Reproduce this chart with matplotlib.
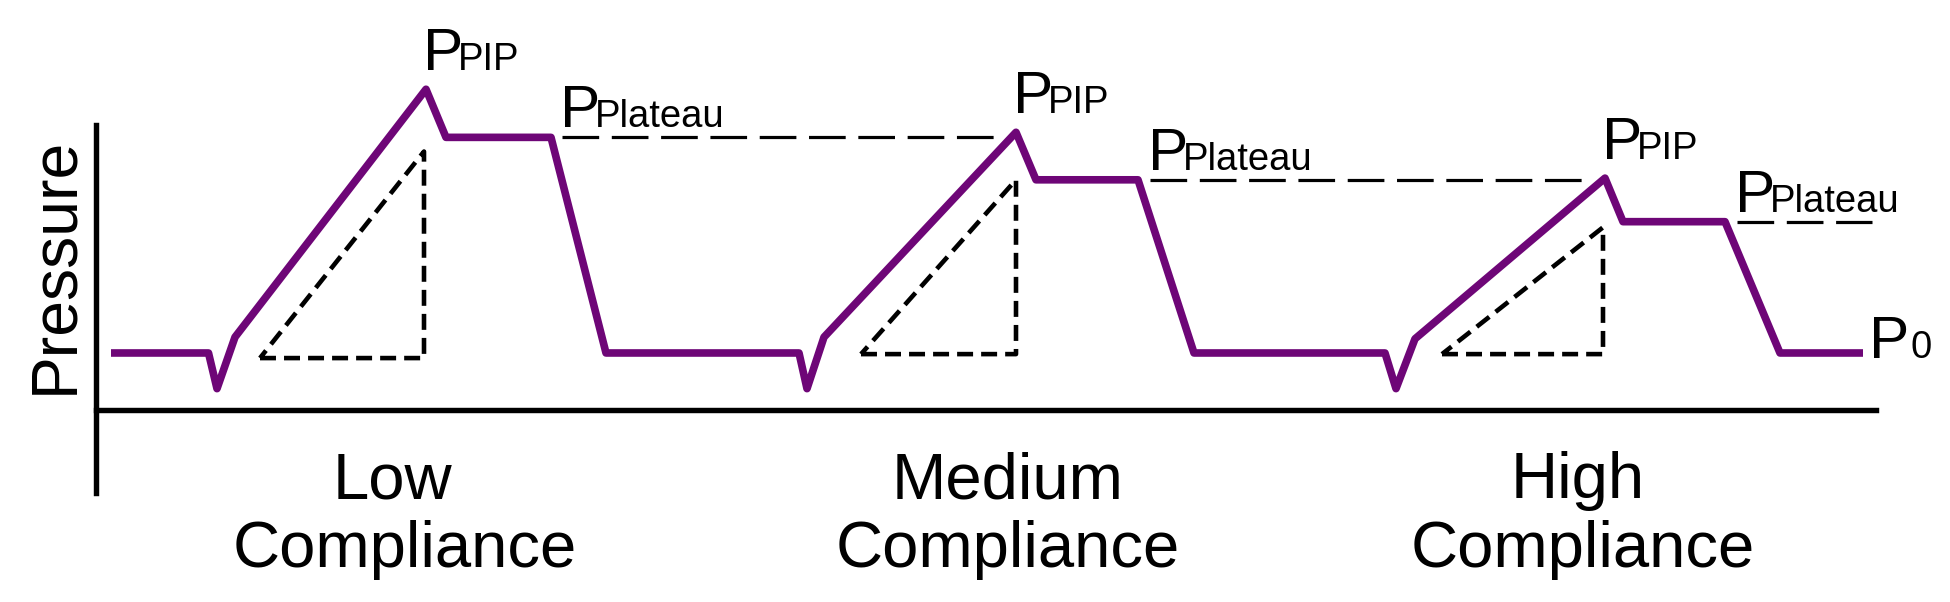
import matplotlib
matplotlib.use('Agg')
from matplotlib import pyplot as plt

plt.rcParams['font.family'] = ['Liberation Sans', 'DejaVu Sans']
plt.rcParams['lines.scale_dashes'] = False

# compliance cases, left to right
cases = ['Low', 'Medium', 'High']

# baseline pressure and trigger dip
p0 = 10.0
p_dip = 3.7
# pressures of each breath
p_kink = [12.8, 12.8, 12.5]
p_pip = [56.6, 49.0, 40.9]
p_plat = [48.1, 40.6, 33.2]

# times of each breath
t_trig = [11.25, 70.3, 128.9]
t_dip = [12.1, 71.1, 130.0]
t_kink = [13.9, 72.8, 131.9]
t_pip = [33.0, 92.0, 150.9]
t_plat = [35.0, 94.0, 152.7]
t_rel = [45.5, 104.2, 162.9]
t_exp = [51.0, 109.8, 168.4]
t_start, t_stop = 1.5, 176.7

# dashed triangles under the ramp
tri_t0 = [16.4, 76.5, 134.6]
tri_t1 = [32.8, 92.0, 150.7]
tri_p0 = [9.1, 9.8, 9.8]
tri_p1 = [45.6, 40.6, 32.2]

# plateau reference lines
ref_t0 = [46.6, 105.4, 164.1]
ref_t1 = [89.8, 148.6, 177.6]

purple = '#6E0677'

fig = plt.figure(figsize=(19.5, 6.02), dpi=100)
ax = fig.add_axes([0, 0, 1, 1])
ax.set_xlim(-9.6, 185.4)
ax.set_ylim(-34.0, 72.37)
ax.set_xticks([])
ax.set_yticks([])
for s in ['top', 'right']:
    ax.spines[s].set_visible(False)
for s in ['left', 'bottom']:
    ax.spines[s].set_position(('data', 0))
    ax.spines[s].set_linewidth(3.9)
ax.spines['left'].set_bounds(-14.7, 50.3)
ax.spines['bottom'].set_bounds(0, 178)

# pressure trace
ts = [t_start]
ps = [p0]
for i in range(len(cases)):
    ts += [t_trig[i], t_dip[i], t_kink[i], t_pip[i], t_plat[i], t_rel[i], t_exp[i]]
    ps += [p0, p_dip, p_kink[i], p_pip[i], p_plat[i], p_plat[i], p0]
ts.append(t_stop)
ps.append(p0)
ax.plot(ts, ps, color=purple, lw=5.5, solid_capstyle='butt', zorder=3)

for i in range(len(cases)):
    ax.plot([tri_t0[i], tri_t1[i], tri_t1[i], tri_t0[i]],
            [tri_p0[i], tri_p0[i], tri_p1[i], tri_p0[i]],
            color='black', lw=3.3, dashes=(11.5, 5.8), dash_capstyle='butt')
    ax.plot([ref_t0[i], ref_t1[i]], [p_plat[i], p_plat[i]],
            color='black', lw=2.3, dashes=(26.4, 9.1), dash_capstyle='butt')

renderer = fig.canvas.get_renderer()


def plabel(t, p, sub, dx, dy, gap=-5.0):
    big = ax.annotate('P', (t, p), xytext=(dx, dy), textcoords='offset pixels',
                      fontsize=43.5, ha='left', va='baseline')
    w = big.get_window_extent(renderer=renderer).width
    ax.annotate(sub, (t, p), xytext=(dx + w + gap, dy), textcoords='offset pixels',
                fontsize=27.5, ha='left', va='baseline')


for i in range(len(cases)):
    plabel(t_pip[i], p_pip[i], 'PIP', -3, 19.5)
    plabel(ref_t0[i], p_plat[i], 'Plateau', -2, 10)
plabel(t_stop, p0, '0', 6.5, -4.7, gap=0.5)

ax.text(-2.4, 25.4, 'Pressure', rotation=90, rotation_mode='anchor',
        ha='center', va='baseline', fontsize=46.3)

name_x = [29.6, 91.2, 148.2]
comp_x = [30.9, 91.2, 148.7]
for i, name in enumerate(cases):
    ax.text(name_x[i], -15.7, name, ha='center', va='baseline', fontsize=47)
    ax.text(comp_x[i], -27.8, 'Compliance', ha='center', va='baseline', fontsize=47)

fig.savefig('out.png', dpi=100)
